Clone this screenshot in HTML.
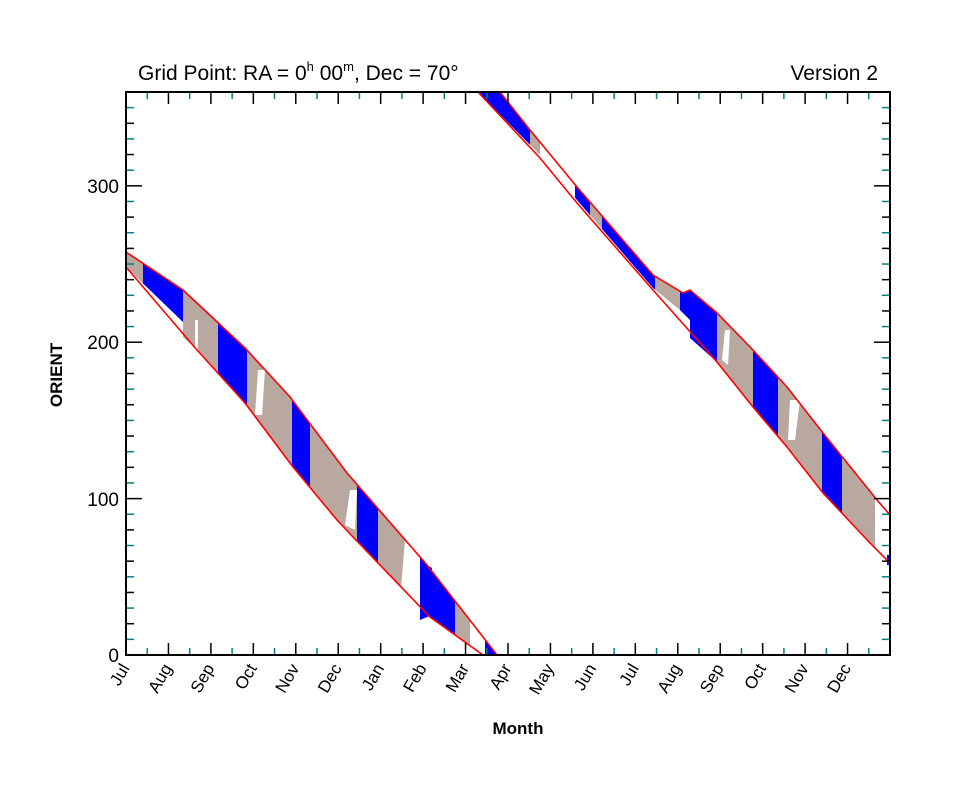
<!DOCTYPE html>
<html><head><meta charset="utf-8"><style>
html,body{margin:0;padding:0;background:#fff;}
svg{display:block;font-family:"Liberation Sans",sans-serif;}
</style></head><body>
<svg width="953" height="808" viewBox="0 0 953 808" xmlns="http://www.w3.org/2000/svg">
<defs>
<clipPath id="cl"><path d="M126,252 L183,290 L245,348 L290,397 L347,473 L427,565 L497,655 L483,655 L430,617 L353,537 L337,520 L293,467 L245,403 L197,350 L183,337 L183,322 L126,267 Z"/></clipPath>
<clipPath id="cr"><path d="M478,92 L500,92 L530,130 L577,187 L653,275 L683,293 L690,290 L717,313 L753,350 L787,387 L823,433 L877,500 L890,515 L890,563 L870,543 L823,493 L787,447 L753,407 L717,362 L690,338 L690,320 L680,310 L653,288 L577,200 L540,155 Z"/></clipPath>
</defs>
<g clip-path="url(#cl)">
<rect x="126" y="92" width="380" height="563" fill="#b8a8a0"/>
<rect x="143" y="92" width="40" height="563" fill="#0000ff"/>
<rect x="195" y="320" width="3" height="35" fill="#fff"/>
<rect x="218" y="92" width="29" height="563" fill="#0000ff"/>
<polygon points="258,370 265,370 262,415 255,415" fill="#fff"/>
<rect x="292" y="92" width="18" height="563" fill="#0000ff"/>
<polygon points="350,490 357,490 355,530 345,525" fill="#fff"/>
<rect x="357" y="92" width="21" height="563" fill="#0000ff"/>
<polygon points="405,540 420,540 420,620 400,600" fill="#fff"/>
<rect x="420" y="92" width="35" height="563" fill="#0000ff"/>
<rect x="470" y="92" width="15" height="563" fill="#fff"/>
<rect x="485" y="92" width="20" height="563" fill="#0000ff"/>
</g>
<polygon points="420,580 427,565 432,568 432,615 420,620" fill="#0000ff"/>
<g clip-path="url(#cr)">
<rect x="470" y="92" width="425" height="563" fill="#b8a8a0"/>
<rect x="470" y="92" width="60" height="563" fill="#0000ff"/>
<rect x="540" y="92" width="35" height="563" fill="#fff"/>
<rect x="575" y="92" width="15" height="563" fill="#0000ff"/>
<rect x="602" y="92" width="53" height="563" fill="#0000ff"/>
<rect x="680" y="92" width="37" height="563" fill="#0000ff"/>
<polygon points="725,330 730,330 728,365 722,360" fill="#fff"/>
<rect x="753" y="92" width="25" height="563" fill="#0000ff"/>
<polygon points="790,400 800,400 795,440 788,440" fill="#fff"/>
<rect x="822" y="92" width="20" height="563" fill="#0000ff"/>
<rect x="875" y="92" width="20" height="563" fill="#fff"/>
</g>
<rect x="887" y="555" width="3" height="10" fill="#0000ff"/>
<g fill="none" stroke="#ff0000" stroke-width="1.6">
<polyline points="126,252 183,290 245,348 290,397 347,473 427,565 497,655"/>
<polyline points="126,267 197,350 245,403 293,467 337,520 353,537 430,617 483,655"/>
<polyline points="500,92 530,130 577,187 653,275 683,293 690,290 717,313 753,350 787,387 823,433 877,500 890,515"/>
<polyline points="478,92 540,158 577,203 653,290 717,362 753,407 787,447 823,493 870,543 890,563"/>
</g>
<g id="ticks" stroke-width="1.5">
<!-- generated below -->
</g>
<rect x="126" y="92" width="764" height="563" fill="none" stroke="#000" stroke-width="2"/>
<script>
(function(){
var g=document.getElementById('ticks'),ns='http://www.w3.org/2000/svg';
function ln(x1,y1,x2,y2,c){var l=document.createElementNS(ns,'line');l.setAttribute('x1',x1);l.setAttribute('y1',y1);l.setAttribute('x2',x2);l.setAttribute('y2',y2);l.setAttribute('stroke',c);g.appendChild(l);}
var pm=764/18;
for(var i=0;i<=36;i++){var x=126+i*pm/2;var L=(i%2==0)?12:7;var c=(i%2==0)?'#000':'#008080';
ln(x,655,x,655-L,c);ln(x,92,x,92+L,c);}
for(var v=0;v<=360;v+=10){var y=655-v*563/360;var L=(v%100==0)?16:8;var c=(v%100==0)?'#000':(v%20==0?'#000':'#008080');
ln(126,y,126+L,y,c);ln(890,y,890-L,y,c);}
})();
</script>
<g font-size="21" fill="#000">
<text x="138" y="80">Grid Point: RA = 0<tspan font-size="13" dy="-9">h</tspan><tspan dy="9"> 00</tspan><tspan font-size="13" dy="-9">m</tspan><tspan dy="9">, Dec = 70°</tspan></text>
<text x="878" y="80" text-anchor="end">Version 2</text>
</g>
<g font-size="19" text-anchor="end">
<text x="119" y="662">0</text>
<text x="119" y="506">100</text>
<text x="119" y="349">200</text>
<text x="119" y="193">300</text>
</g>
<text transform="translate(62,375) rotate(-90)" font-size="17" text-anchor="middle" font-weight="bold">ORIENT</text>
<text x="518" y="734" font-size="17" text-anchor="middle" font-weight="bold">Month</text>
<g font-size="17" text-anchor="end" id="months"></g>
<script>
(function(){
var m=['Jul','Aug','Sep','Oct','Nov','Dec','Jan','Feb','Mar','Apr','May','Jun','Jul','Aug','Sep','Oct','Nov','Dec'];
var g=document.getElementById('months'),pm=764/18;
m.forEach(function(s,i){var x=126+i*pm+4,y=668;var t=document.createElementNS('http://www.w3.org/2000/svg','text');
t.setAttribute('transform','translate('+x+','+y+') rotate(-60)');t.textContent=s;g.appendChild(t);});
})();
</script>
</svg>
</body></html>
